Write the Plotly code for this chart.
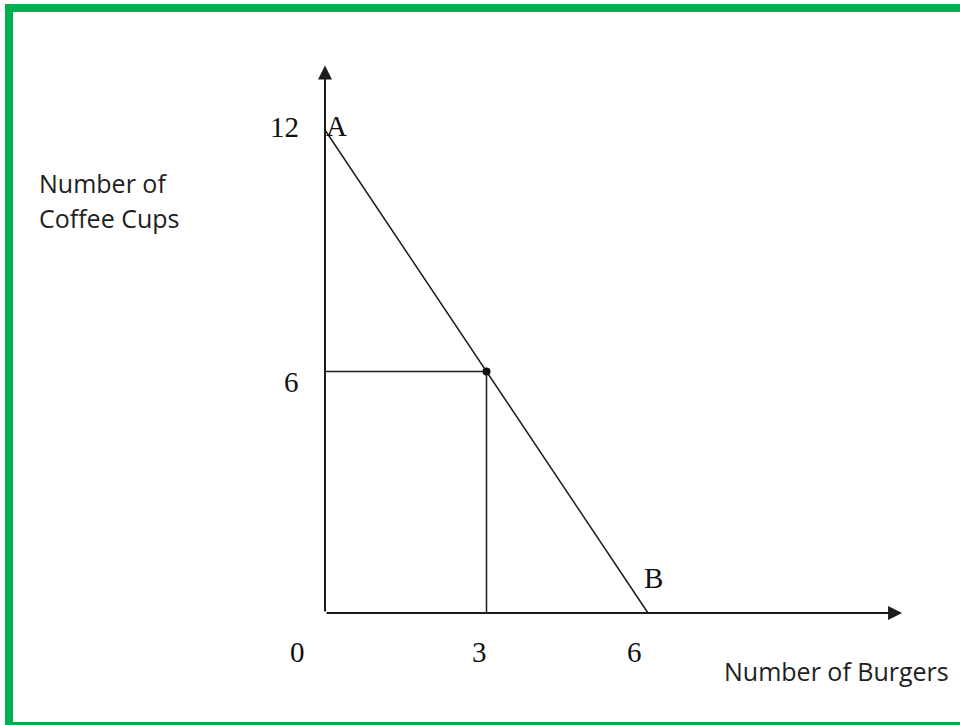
import plotly.graph_objects as go

# Budget line between the two corner bundles
bundle_labels = ["A", "B"]
burgers = [0, 6]
coffee = [12, 0]

# Chosen bundle on the line
point_burgers = [3]
point_coffee = [6]

# Tick labels along each axis
x_ticks = [0, 3, 6]
y_ticks = [12, 6]

x_title = "Number of Burgers"
y_title = ["Number of", "Coffee Cups"]

W, H = 960, 725
ink = "#1c1c1c"
green = "#00B050"
serif = "Liberation Serif, Times New Roman, serif"
sans = "Open Sans, sans-serif"

fig = go.Figure()

# Guide lines from the chosen bundle to both axes
fig.add_trace(go.Scatter(
    x=[0, point_burgers[0], point_burgers[0]],
    y=[point_coffee[0], point_coffee[0], 0],
    mode="lines", line=dict(color=ink, width=1.5),
    hoverinfo="skip", showlegend=False,
))

# Budget line
fig.add_trace(go.Scatter(
    x=burgers, y=coffee, mode="lines",
    line=dict(color=ink, width=1.5),
    hoverinfo="skip", showlegend=False,
))

# Chosen bundle marker
fig.add_trace(go.Scatter(
    x=point_burgers, y=point_coffee, mode="markers",
    marker=dict(color="#111111", size=8),
    hoverinfo="skip", showlegend=False,
))

annotations = []

# Axis arrows drawn from the origin
annotations.append(dict(
    x=0, y=13.6, ax=0, ay=0, xref="x", yref="y", axref="x", ayref="y",
    showarrow=True, arrowhead=2, arrowsize=1.4, arrowwidth=2,
    arrowcolor=ink, text="",
))
annotations.append(dict(
    x=10.72, y=0, ax=0, ay=0, xref="x", yref="y", axref="x", ayref="y",
    showarrow=True, arrowhead=2, arrowsize=1.4, arrowwidth=2,
    arrowcolor=ink, text="",
))

tick_font = dict(family=serif, size=29, color="#111111")

# x-axis tick labels
x_shifts = {0: -28, 3: -7, 6: -14}
for v in x_ticks:
    annotations.append(dict(
        x=v, y=0, xref="x", yref="y", text=str(v), showarrow=False,
        xshift=x_shifts[v], yshift=-39, font=tick_font,
    ))

# y-axis tick labels
y_shifts = {12: (-41, 3), 6: (-34, -10)}
for v in y_ticks:
    dx, dy = y_shifts[v]
    annotations.append(dict(
        x=0, y=v, xref="x", yref="y", text=str(v), showarrow=False,
        xshift=dx, yshift=dy, font=tick_font,
    ))

# Corner bundle labels
label_shifts = {"A": (11, 4), "B": (5, 35)}
for name, bx, cy in zip(bundle_labels, burgers, coffee):
    dx, dy = label_shifts[name]
    annotations.append(dict(
        x=bx, y=cy, xref="x", yref="y", text=name, showarrow=False,
        xshift=dx, yshift=dy, font=tick_font,
    ))

title_font = dict(family=sans, size=25, color="#1e1e1e")

# Axis titles
annotations.append(dict(
    x=722 / W, y=1 - 671 / H, xref="paper", yref="paper", text=x_title,
    showarrow=False, xanchor="left", yanchor="middle", font=title_font,
))
for i, line in enumerate(y_title):
    annotations.append(dict(
        x=37 / W, y=1 - (183 + 35 * i) / H, xref="paper", yref="paper",
        text=line, showarrow=False, xanchor="left", yanchor="middle",
        font=title_font,
    ))

# Green frame on the top, left and bottom edges
shapes = [
    dict(type="rect", xref="paper", yref="paper", x0=5 / W, x1=1,
         y0=1 - 12 / H, y1=1 - 4 / H, fillcolor=green, line_width=0, layer="below"),
    dict(type="rect", xref="paper", yref="paper", x0=5 / W, x1=13 / W,
         y0=0, y1=1 - 4 / H, fillcolor=green, line_width=0, layer="below"),
    dict(type="rect", xref="paper", yref="paper", x0=5 / W, x1=1,
         y0=0, y1=3 / H, fillcolor=green, line_width=0, layer="below"),
]

# Pixel scale: origin at (325, 613), 6 burgers -> 648 px, 12 cups -> 130 px
px_per_x = (648 - 325) / 6
px_per_y = (613 - 130) / 12
x_range = [-325 / px_per_x, (W - 325) / px_per_x]
y_range = [-(H - 613) / px_per_y, 613 / px_per_y]

fig.update_layout(
    width=W, height=H,
    margin=dict(l=0, r=0, t=0, b=0),
    paper_bgcolor="white", plot_bgcolor="white",
    xaxis=dict(range=x_range, visible=False, fixedrange=True),
    yaxis=dict(range=y_range, visible=False, fixedrange=True),
    annotations=annotations, shapes=shapes,
    showlegend=False,
)

fig.write_html("out.html", config={"displayModeBar": False})
